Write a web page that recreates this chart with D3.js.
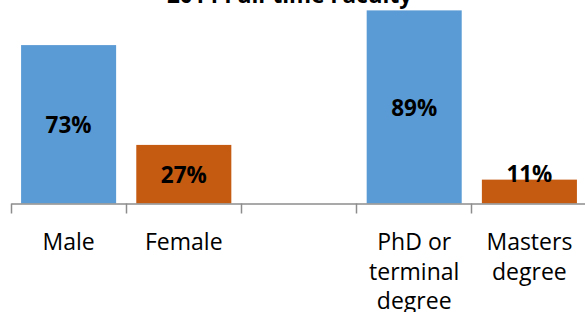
<!DOCTYPE html>
<html>
<head>
<meta charset="utf-8">
<script src="https://cdn.jsdelivr.net/npm/d3@7"></script>
<style>
  body { margin: 0; background: #fff; }
  svg { display: block; font-family: "Open Sans", sans-serif; }
</style>
</head>
<body>
<div id="chart"></div>
<script>
var title = '2014 Full-time Faculty';
var categories = ['Male', 'Female', '', 'PhD or terminal degree', 'Masters degree'];
var categoryLines = [['Male'], ['Female'], [], ['PhD or', 'terminal', 'degree'], ['Masters', 'degree']];
var values = [73, 27, null, 89, 11];
var barColors = ['#5b9bd5', '#c55a11', null, '#5b9bd5', '#c55a11'];

var width = 585;
var height = 312;
var baseline = 203.5;

// svg
var svg = d3.select('#chart')
	.append('svg')
	.attr('width', width)
	.attr('height', height);

// scales
var x_scale = d3.scaleBand()
	.domain(d3.range(categories.length))
	.range([11, 587]);
var y_scale = d3.scaleLinear()
	.domain([0, 100])
	.range([baseline, baseline - 217]);

var barWidth = x_scale.bandwidth() * 0.825;

// bars
var data = values.map(function(v, i){
	return {i: i, v: v, color: barColors[i]};
}).filter(function(d){ return d.v !== null; });

svg.append('g').selectAll('rect')
	.data(data)
	.enter()
	.append('rect')
	.attr('x', function(d){ return x_scale(d.i) + (x_scale.bandwidth() - barWidth) / 2; })
	.attr('y', function(d){ return y_scale(d.v); })
	.attr('width', barWidth)
	.attr('height', function(d){ return baseline - y_scale(d.v); })
	.attr('fill', function(d){ return d.color; });

// value labels
svg.append('g').selectAll('text')
	.data(data)
	.enter()
	.append('text')
	.attr('x', function(d){ return x_scale(d.i) + x_scale.bandwidth() / 2; })
	.attr('y', function(d){
		var top = y_scale(d.v);
		if (baseline - top < 32) return top + 2;
		return (top + baseline) / 2 + 9;
	})
	.attr('text-anchor', 'middle')
	.attr('font-size', 22.5)
	.attr('font-weight', 'bold')
	.attr('fill', '#000')
	.text(function(d){ return d.v + '%'; });

// x axis (tick marks between categories)
var edge_scale = d3.scaleLinear()
	.domain([0, categories.length])
	.range([11, 586]);
var x_axis = d3.axisBottom(edge_scale)
	.tickValues(d3.range(categories.length + 1))
	.tickSize(10)
	.tickSizeOuter(0)
	.tickFormat('');
var gx = svg.append('g')
	.attr('class', 'x-axis')
	.attr('transform', 'translate(0,' + baseline + ')')
	.call(x_axis);
gx.selectAll('path, line')
	.attr('stroke', '#8c8c8c')
	.attr('stroke-width', 1.5);

// category labels
var labels = svg.append('g').selectAll('text')
	.data(categoryLines)
	.enter()
	.append('text')
	.attr('text-anchor', 'middle')
	.attr('font-size', 23)
	.attr('fill', '#000')
	.attr('transform', function(d, i){
		return 'translate(' + (x_scale(i) + x_scale.bandwidth() / 2) + ',250)';
	});
labels.selectAll('tspan')
	.data(function(d){ return d; })
	.enter()
	.append('tspan')
	.attr('x', 0)
	.attr('y', function(d, j){ return j * 29.5; })
	.text(function(d){ return d; });

// title (cut off at the top)
svg.append('text')
	.attr('x', 289.5)
	.attr('y', 2.5)
	.attr('text-anchor', 'middle')
	.attr('font-size', 22.5)
	.attr('font-weight', 'bold')
	.attr('fill', '#000')
	.text(title);
</script>
</body>
</html>
